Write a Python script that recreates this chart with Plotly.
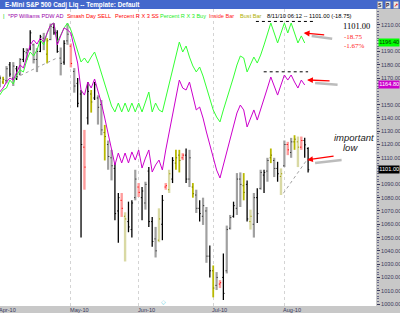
import plotly.graph_objects as go
import pandas as pd

W, H = 400, 313

# ---------------- data ----------------
holidays = ["2010-04-02", "2010-05-31", "2010-07-05"]
dates = [d for d in pd.bdate_range("2010-04-01", "2010-08-11")
         if d.strftime("%Y-%m-%d") not in holidays]
idx = list(range(len(dates)))

high = [1172, 1171, 1179, 1182, 1182, 1179, 1185, 1192.5, 1192.5, 1206,
        1196, 1192.5, 1202.5, 1204, 1200, 1211, 1211, 1206, 1193, 1198.5,
        1211, 1196, 1177.5, 1170, 1161, 1131, 1167, 1161, 1167, 1157,
        1153.5, 1134.75, 1123, 1116, 1106, 1083.5, 1083.5, 1069, 1077, 1078,
        1101, 1091, 1088, 1092, 1103, 1065.5, 1058, 1072, 1082, 1091,
        1101, 1110.5, 1116, 1116, 1113.5, 1117, 1116, 1091, 1086, 1078,
        1080, 1073, 1044, 1029, 1024, 1018, 1038, 1059, 1067, 1077,
        1098.5, 1099, 1098.5, 1093, 1071, 1083.5, 1087, 1101, 1101, 1110,
        1117, 1110, 1107, 1102, 1123, 1122, 1125, 1127, 1126, 1126,
        1125, 1118]
low = [1163, 1165.5, 1166, 1171, 1164, 1168.5, 1172, 1182, 1183.5, 1191,
       1181, 1174.5, 1189.5, 1191, 1181, 1198.5, 1202.5, 1189, 1172, 1180,
       1195, 1178, 1159, 1148, 1050, 1086, 1135, 1144, 1153.5, 1135,
       1127, 1108, 1101, 1093, 1063, 1046, 1065.5, 1032, 1054, 1050,
       1078, 1080.5, 1063, 1071, 1058, 1043, 1035, 1046.5, 1048, 1086,
       1083.5, 1091, 1101, 1099, 1108.25, 1091, 1088, 1080, 1068.5, 1062,
       1059.5, 1031, 1020, 1005, 1010.5, 1012, 1003, 1023, 1056, 1065,
       1067, 1073, 1078, 1062, 1056, 1050, 1061, 1086, 1083.5, 1092,
       1106, 1095.5, 1092, 1082, 1103, 1112, 1110, 1116, 1103, 1116,
       1110, 1099]
opn = [1165, 1167, 1168, 1180, 1170, 1177, 1173, 1184, 1189, 1192,
       1195, 1184, 1190, 1200, 1188, 1199, 1208, 1204, 1185, 1182,
       1198, 1194, 1175, 1166, 1158, 1118, 1140, 1158, 1155, 1155,
       1150, 1129, 1120, 1110, 1102, 1070, 1078, 1066, 1062, 1056,
       1080, 1088, 1080, 1076, 1100, 1062, 1049, 1048, 1060, 1088,
       1086, 1094, 1106, 1112, 1110, 1112, 1094, 1088, 1082, 1072,
       1066, 1070, 1036, 1025, 1014, 1015, 1020, 1025, 1057, 1066,
       1072, 1094, 1089, 1090, 1062, 1060, 1080, 1087, 1097, 1100,
       1110, 1108, 1102, 1096, 1104, 1120, 1114, 1122, 1122, 1118,
       1123, 1117]
close = [1170, 1169, 1177, 1173, 1179, 1171, 1184, 1190, 1191, 1204,
         1184, 1190, 1201, 1197, 1198, 1209, 1204, 1190, 1181, 1196,
         1203, 1181, 1164, 1151, 1120, 1103, 1160, 1152, 1165, 1148,
         1131, 1126, 1111, 1104, 1068, 1080, 1072, 1064, 1058, 1076,
         1094, 1084, 1085, 1090, 1062, 1047, 1040, 1064, 1078, 1089,
         1098, 1108, 1110, 1108, 1112, 1094, 1110, 1083, 1072, 1068,
         1074, 1036, 1025, 1012, 1020, 1016, 1008, 1056, 1065, 1074,
         1094, 1090, 1084, 1064, 1066, 1080, 1068, 1099, 1099, 1108,
         1112, 1102, 1098, 1098, 1120, 1116, 1122, 1124, 1118, 1123,
         1119.75, 1101]
# bar paint class: k=black, g=gray, o=bust bar (olive), b=faded olive, r=inside bar
bar_class = ["k", "o", "g", "k", "g", "k", "g", "k", "g", "k",
             "g", "g", "k", "g", "o", "g", "k", "k", "g", "k",
             "g", "r", "g", "k", "k", "r", "k", "o", "k", "g",
             "g", "o", "g", "g", "k", "k", "r", "b", "k", "k",
             "g", "r", "k", "g", "k", "k", "g", "b", "k", "r",
             "b", "k", "o", "o", "r", "k", "g", "o", "g", "k",
             "g", "g", "k", "o", "g", "r", "k", "g", "g", "k",
             "g", "g", "o", "k", "b", "g", "k", "g", "k", "g",
             "o", "g", "k", "b", "g", "r", "g", "o", "b", "r",
             "k", "k"]

pct_r_buy = [1157.2, 1161.0, 1162.5, 1168.5, 1165.5, 1172.3, 1176.1, 1174.6, 1183.6, 1189.6,
             1186.6, 1191.1, 1198.6, 1194.9, 1203.9, 1209.9, 1211.4, 1197.1, 1202.4, 1207.7,
             1211.4, 1206.2, 1198.6, 1191.1, 1182.1, 1185.1, 1181.3, 1185.8, 1189.6, 1182.1,
             1173.8, 1164.8, 1156.5, 1149.0, 1144.5, 1151.2, 1144.5, 1151.2, 1144.5, 1151.2,
             1144.5, 1151.2, 1144.5, 1152.7, 1159.5, 1144.5, 1151.2, 1146.0, 1144.5, 1155.0,
             1165.5, 1176.1, 1186.6, 1197.1, 1189.6, 1194.1, 1185.8, 1179.1, 1174.6, 1178.3,
             1171.5, 1162.5, 1153.5, 1146.0, 1140.7, 1137.0, 1146.0, 1153.5, 1162.5, 1170.8,
             1179.8, 1186.6, 1185.1, 1174.6, 1180.6, 1185.8, 1181.3, 1187.3, 1194.9, 1203.1,
             1211.4, 1203.9, 1196.4, 1203.9, 1211.4, 1203.9, 1211.4, 1203.9, 1196.4, 1201.7,
             1196.4]
williams_ad = [1159.5, 1162.5, 1167.0, 1170.0, 1168.5, 1174.6, 1179.8, 1177.6, 1187.3, 1194.9,
               1198.6, 1195.6, 1200.1, 1197.1, 1203.9, 1209.9, 1211.4, 1194.9, 1201.7, 1207.7,
               1206.2, 1203.9, 1192.6, 1181.3, 1161.0, 1157.2, 1167.0, 1162.5, 1169.3, 1161.0,
               1151.2, 1139.9, 1127.2, 1115.9, 1104.6, 1113.6, 1106.1, 1113.6, 1106.1, 1114.4,
               1108.3, 1115.9, 1102.3, 1109.8, 1115.9, 1099.3, 1104.6, 1108.3, 1100.8, 1115.9,
               1128.7, 1142.2, 1155.0, 1168.5, 1162.5, 1161.0, 1167.0, 1157.2, 1146.0, 1148.2,
               1139.9, 1129.4, 1119.6, 1109.8, 1100.8, 1094.8, 1104.6, 1114.4, 1124.9, 1134.7,
               1143.7, 1149.7, 1146.0, 1133.2, 1139.9, 1146.0, 1138.4, 1146.0, 1153.5, 1162.5,
               1170.8, 1164.0, 1157.2, 1164.8, 1172.3, 1168.5, 1172.3, 1167.0, 1162.5, 1168.5,
               1164.8]

price_ticks = list(range(1000, 1211, 10))
legend_items = [("|", "#00cc00"), ("*PP Williams PDW AD", "#9900aa"),
                ("Smash Day SELL", "#ff0000"), ("Percent R X 3 SS", "#ff0000"),
                ("Percent R X 3 Buy", "#22ee22"), ("Inside Bar", "#ff2222"),
                ("Bust Bar", "#b0b000")]
# drawn lines (index, price)
hlines = [(75.6, 93.3, 1212.6), (77.9, 91.0, 1174.7)]
trendlines = [(4.5, 1170.0, 16.9, 1185.1), (83.7, 1083.3, 90.6, 1108.3)]
arrows = [(89.7, 1203.9, 22, 2), (90.7, 1168.6, 24, 1), (90.7, 1108.4, 28, -4)]

# ---------------- layout helpers ----------------
PLOT_R = 376
TOP, BOT = 9, 306
PX_PER_BAR = 3.389
def px(x): return x / W
def py(y): return 1 - y / H

styles = {
    "g": dict(bar="#a0a0a0", w=2.2, tick="#303030"),
    "k": dict(bar="#000000", w=1.3, tick="#000000"),
    "o": dict(bar="#b8b800", w=1.8, tick="#707000"),
    "b": dict(bar="#d9d9a4", w=2.4, tick="#a0a000"),
    "r": dict(bar="#ff9c9c", w=2.4, tick="#ff0000"),
}

fig = go.Figure()
for cls, st in styles.items():
    sel = [i for i in idx if bar_class[i] == cls]
    xs, ys, tx, ty = [], [], [], []
    for i in sel:
        xs += [i, i, None]
        ys += [low[i], high[i], None]
        tx += [i - 0.35, i, None, i, i + 0.35, None]
        ty += [opn[i], opn[i], None, close[i], close[i], None]
    fig.add_trace(go.Scatter(x=xs, y=ys, mode="lines", hoverinfo="skip",
                             line=dict(color=st["bar"], width=st["w"]), showlegend=False))
    fig.add_trace(go.Scatter(x=tx, y=ty, mode="lines", hoverinfo="skip",
                             line=dict(color=st["tick"], width=1), showlegend=False))

n_ind = len(pct_r_buy)
fig.add_trace(go.Scatter(x=idx[:n_ind], y=pct_r_buy, mode="lines", hoverinfo="skip",
                         line=dict(color="#33ff33", width=1.0), showlegend=False))
fig.add_trace(go.Scatter(x=idx[:len(williams_ad)], y=williams_ad, mode="lines", hoverinfo="skip",
                         line=dict(color="#cc00cc", width=1.0), showlegend=False))

# month starts
month_idx, month_lbl = [], []
for i, d in enumerate(dates):
    if i == 0 or d.month != dates[i - 1].month:
        month_idx.append(i)
        month_lbl.append(d.strftime("%b-%y"))

xr0 = 0.3 / PX_PER_BAR
xr1 = (PLOT_R + 0.3) / PX_PER_BAR
yr_top = 1000 + (304 - TOP) * 0.7524
yr_bot = 1000 + (304 - BOT) * 0.7524

shapes = [
    dict(type="rect", xref="paper", yref="paper", x0=0, x1=1, y0=py(TOP), y1=1,
         fillcolor="#4468cc", line=dict(width=0), layer="below"),
    dict(type="rect", xref="paper", yref="paper", x0=px(PLOT_R), x1=1, y0=0, y1=py(TOP),
         fillcolor="#c8c8c8", line=dict(width=0), layer="below"),
    dict(type="rect", xref="paper", yref="paper", x0=0, x1=1, y0=0, y1=py(BOT),
         fillcolor="#c8c8c8", line=dict(width=0), layer="below"),
]
for x0, x1, yv in hlines:
    shapes.append(dict(type="line", xref="x", yref="y", x0=x0, x1=x1, y0=yv, y1=yv,
                       line=dict(color="#000000", width=1, dash="dot")))
for x0, y0, x1, y1 in trendlines:
    shapes.append(dict(type="line", xref="x", yref="y", x0=x0, x1=x1, y0=y0, y1=y1,
                       line=dict(color="#a0a0a0", width=1, dash="dot")))

ann = []
AX_FONT = dict(family="Arial", size=5.6, color="#3a3a5c")
ann.append(dict(xref="paper", yref="paper", x=px(3), y=py(4.5), xanchor="left", yanchor="middle",
                text="<b>E-Mini S&P 500 Cadj Liq -- Template: Default</b>", showarrow=False,
                font=dict(family="Arial", size=6.4, color="white")))
for k, (t, xx) in enumerate([("S", 377), ("P", 385)]):
    ann.append(dict(xref="paper", yref="paper", x=px(xx), y=py(4.5), xanchor="left", yanchor="middle",
                    text=f"<b>{t}</b>", showarrow=False, bgcolor="#e8e8e8", bordercolor="#7080a0",
                    borderwidth=0.6, borderpad=0.5, font=dict(family="Arial", size=5, color="#202040")))
ann.append(dict(xref="paper", yref="paper", x=px(393), y=py(4.5), xanchor="left", yanchor="middle",
                text="<b>↗</b>", showarrow=False, bgcolor="#e8e8e8", bordercolor="#7080a0",
                borderwidth=0.6, borderpad=0.3, font=dict(family="DejaVu Sans", size=5, color="#dd0000")))

leg_x = [1, 6, 65, 113, 158, 207, 238]
for (t, c), xx in zip(legend_items, leg_x):
    ann.append(dict(xref="paper", yref="paper", x=px(xx), y=py(16), xanchor="left", yanchor="middle",
                    text=t, showarrow=False, font=dict(family="Arial", size=5.6, color=c)))
chg = close[-1] - close[-2]
pct = chg / close[-2] * 100
ann.append(dict(xref="paper", yref="paper", x=px(265), y=py(16), xanchor="left", yanchor="middle",
                text=f"8/11/10 06:12 -- {close[-1]:.2f} ({chg:.2f})", showarrow=False,
                font=dict(family="Arial", size=5.8, color="#000000")))

ann.append(dict(xref="paper", yref="paper", x=px(341), y=py(26), xanchor="left", yanchor="middle",
                text=f"{close[-1]:.2f}", showarrow=False,
                font=dict(family="Liberation Serif", size=8.5, color="#000000")))
ann.append(dict(xref="paper", yref="paper", x=px(342), y=py(37), xanchor="left", yanchor="middle",
                text=f"{chg:.2f}", showarrow=False,
                font=dict(family="Liberation Serif", size=7, color="#ff2020")))
ann.append(dict(xref="paper", yref="paper", x=px(342), y=py(46), xanchor="left", yanchor="middle",
                text=f"{pct:.2f}%", showarrow=False,
                font=dict(family="Liberation Serif", size=7, color="#ff2020")))
ann.append(dict(xref="paper", yref="paper", x=px(354), y=py(137), xanchor="center", yanchor="middle",
                text="<i>important</i>", showarrow=False,
                font=dict(family="Arial", size=9.5, color="#202020")))
ann.append(dict(xref="paper", yref="paper", x=px(350), y=py(148), xanchor="center", yanchor="middle",
                text="<i>low</i>", showarrow=False,
                font=dict(family="Arial", size=9.5, color="#202020")))

# arrows (gray shadow + red)
for xa, ya, dx, dy in arrows:
    ann.append(dict(xref="x", yref="y", x=xa, y=ya, ax=dx, ay=dy + 1, text="", showarrow=True,
                    arrowhead=0, arrowwidth=2.5, arrowcolor="rgba(160,160,160,0.7)",
                    xshift=8, yshift=-3))
    ann.append(dict(xref="x", yref="y", x=xa, y=ya, ax=dx, ay=dy, text="", showarrow=True,
                    arrowhead=2, arrowsize=0.9, arrowwidth=1.3, arrowcolor="#ff0000"))

# price tags on axis (they cover the tick labels beneath them)
tags = [(pct_r_buy[-1], "#00ff00", "#003300"),
        (williams_ad[-1], "#cc00cc", "#ffffff"),
        (close[-1], "#000000", "#ffffff")]
for val, bg, fg in tags:
    ann.append(dict(xref="paper", yref="y", x=px(PLOT_R + 1.5), y=val, xanchor="left", yanchor="middle",
                    text=f"{val:.2f}", showarrow=False, bgcolor=bg, borderpad=0.3,
                    font=dict(family="Arial", size=5.6, color=fg)))
tick_text = [("" if any(abs(v - t[0]) < 5 for t in tags) else f"{v:.2f}") for v in price_ticks]

# month labels (placed from the month-start bar index on the same pixel scale as the x axis)
for mi, ml in zip(month_idx, month_lbl):
    xpix = (mi - xr0) * PX_PER_BAR - 3
    ann.append(dict(xref="paper", yref="paper", x=px(xpix), y=py(309.6), xanchor="left",
                    yanchor="middle", text=ml, showarrow=False, font=AX_FONT))
ann.append(dict(xref="paper", yref="paper", x=px(163), y=py(301), xanchor="center", yanchor="middle",
                text="◇", showarrow=False, font=dict(family="DejaVu Sans", size=6, color="#40c8d8")))

fig.update_layout(
    width=W, height=H, margin=dict(l=0, r=0, t=0, b=0), autosize=False,
    paper_bgcolor="white", plot_bgcolor="white", showlegend=False,
    shapes=shapes, annotations=ann,
    xaxis=dict(domain=[0, px(PLOT_R)], range=[xr0, xr1], tickmode="array", tickvals=month_idx,
               showticklabels=False, ticks="", showgrid=True, gridcolor="#d4d4d4", griddash="dot",
               gridwidth=1, zeroline=False, showline=False, fixedrange=True, automargin=False),
    yaxis=dict(domain=[py(BOT), py(TOP)], range=[yr_bot, yr_top], side="right", anchor="x",
               tickmode="array", tickvals=price_ticks, ticktext=tick_text,
               tickfont=AX_FONT, ticks="outside", ticklen=3, tickcolor="#3a3a5c",
               minor=dict(tickmode="array", tickvals=list(range(1000, 1222, 2)), ticks="outside",
                          ticklen=1.5, tickcolor="#6a6a8a"),
               showgrid=False, zeroline=False, showline=False, fixedrange=True, automargin=False),
)

fig.write_html("out.html")
